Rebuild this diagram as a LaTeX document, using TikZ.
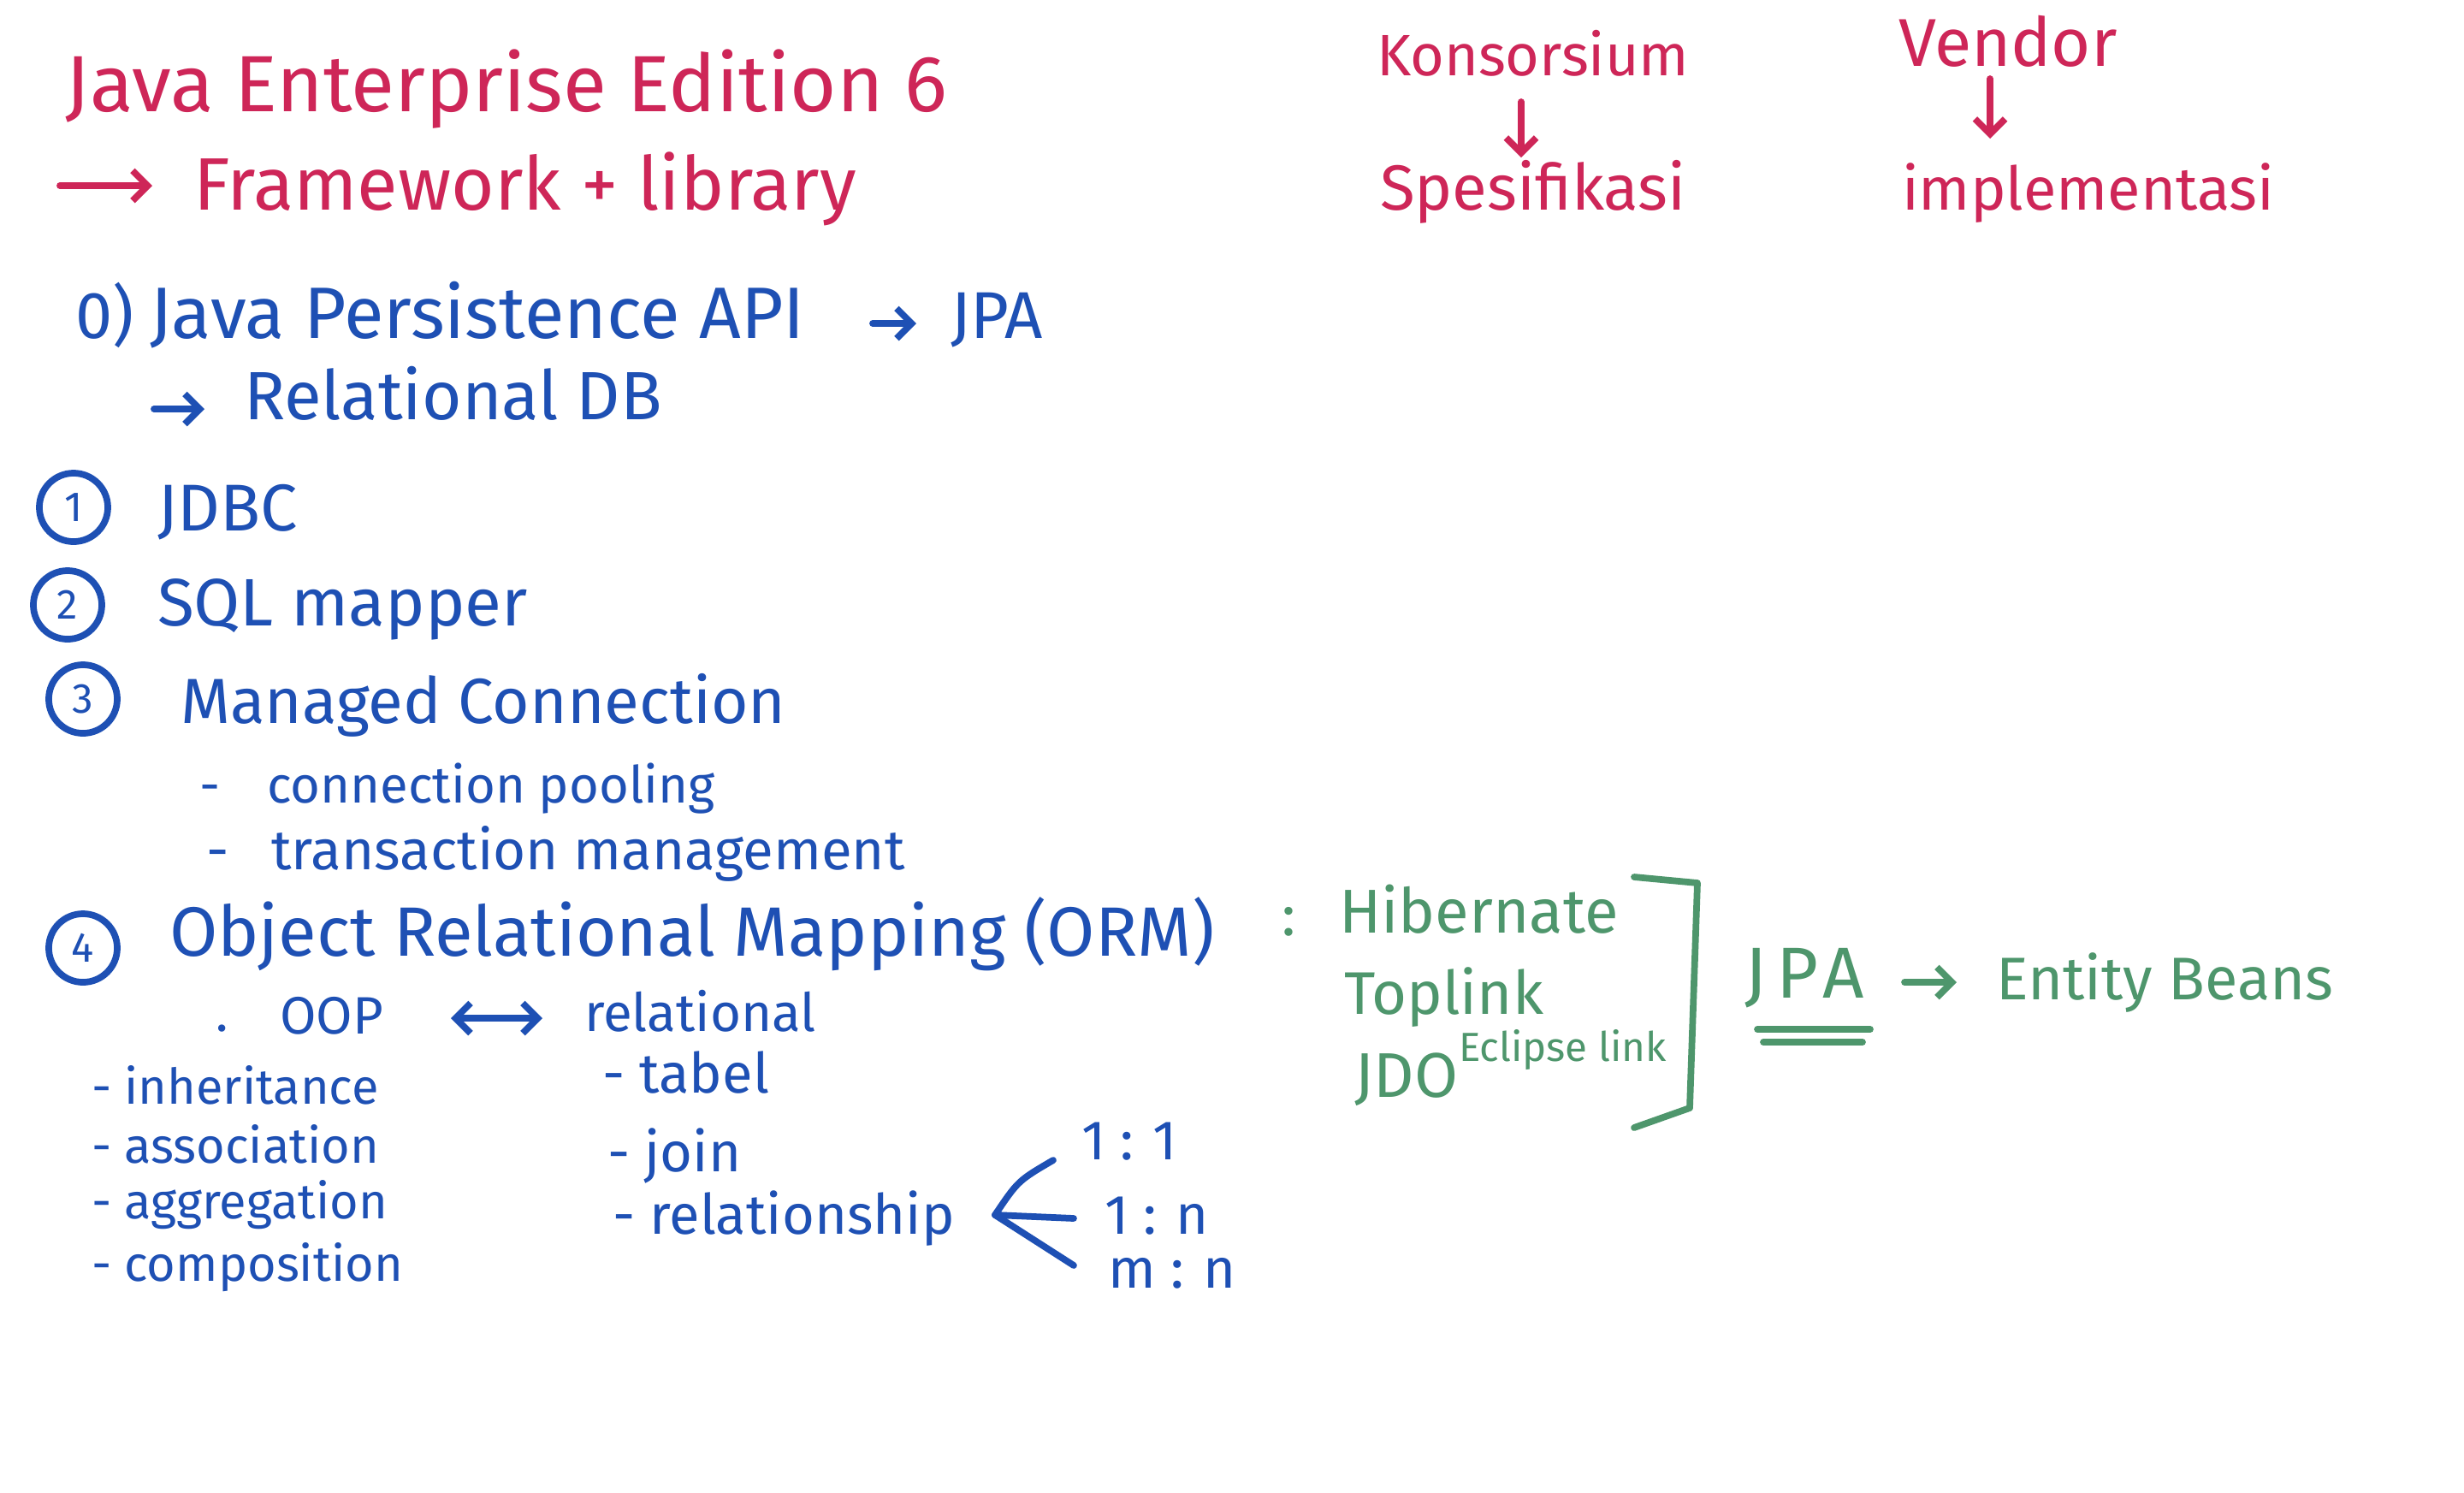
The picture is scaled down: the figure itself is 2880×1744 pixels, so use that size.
\documentclass[tikz,border=0pt]{standalone}
\usepackage{fontspec}
\setmainfont{Fira Sans}
\usetikzlibrary{arrows.meta}
\definecolor{inkred}{RGB}{206,38,88}
\definecolor{inkblue}{RGB}{30,80,180}
\definecolor{inkgreen}{RGB}{78,150,108}
\newcommand{\fsz}[1]{\fontsize{#1}{#1}\selectfont}
\begin{document}
\begin{tikzpicture}[x=0.01cm,y=-0.01cm,
  txt/.style={anchor=base west, inner sep=0pt, outer sep=0pt},
  redtxt/.style={txt, text=inkred},
  bluetxt/.style={txt, text=inkblue},
  greentxt/.style={txt, text=inkgreen},
  numcircle/.style={circle, draw=inkblue, line width=2.2pt, text=inkblue,
    minimum size=0.8cm, inner sep=0pt, font=\fsz{14}},
  pen/.style={line width=2.2pt, line cap=round, line join=round},
  arr/.style={pen, -{Straight Barb[length=5pt,width=10pt]}},
  dblarr/.style={pen, {Straight Barb[length=5pt,width=10pt]}-{Straight Barb[length=5pt,width=10pt]}},
]
\useasboundingbox (0,0) rectangle (2880,1744);
\fill[white] (0,0) rectangle (2880,1744);

% ---- heading (red)
\node[redtxt, font=\fsz{26.5}] (jee) at (77,130) {Java Enterprise Edition 6};
\coordinate (fwa) at (70,217);
\coordinate (fwb) at (178,217);
\draw[arr, inkred] (fwa) -- (fwb);
\node[redtxt, font=\fsz{24.7}] (fw) at (226,245) {Framework + library};

\node[redtxt, font=\fsz{19.4}] (kons) at (1609,88) {Konsorsium};
\node[redtxt, font=\fsz{21.2}] (spes) at (1613,245) {Spesifikasi};
\draw[arr, inkred] (1778,119) coordinate (ka) -- (1778,184) coordinate (kb);

\node[redtxt, font=\fsz{22.5}] (vend) at (2219,77) {Vendor};
\node[redtxt, font=\fsz{20}] (impl) at (2223,245) {implementasi};
\draw[arr, inkred] (2326,92) coordinate (va) -- (2326,162) coordinate (vb);

% ---- persistence (blue)
\node[bluetxt, font=\fsz{22}] (zero) at (88,395) {0)};
\node[bluetxt, font=\fsz{24.2}] (jpaapi) at (175,395) {Java Persistence API};
\node[bluetxt, font=\fsz{22}] (jpa) at (1111,395) {JPA};
\draw[arr, inkblue] (1020,378) coordinate (ja) -- (1071,378) coordinate (jb);
\coordinate (rda) at (180,478);
\coordinate (rdb) at (239,478);
\draw[arr, inkblue] (rda) -- (rdb);
\node[bluetxt, font=\fsz{22.7}] (reldb) at (285,490) {Relational DB};

\node[numcircle] (n1) at (86,593) {1};
\node[bluetxt, font=\fsz{22}] (jdbc) at (184,620) {JDBC};
\node[numcircle] (n2) at (79,707) {2};
\node[bluetxt, font=\fsz{22.3}] (sqlm) at (184,731) {SQL mapper};
\node[numcircle] (n3) at (97,817) {3};
\node[bluetxt, font=\fsz{21.2}] (mc) at (211,845) {Managed Connection};
\node[bluetxt, font=\fsz{17}] (pool) at (233,938) {-\hspace{0.55cm}connection pooling};
\node[bluetxt, font=\fsz{18.6}] (trx) at (241,1016) {-\hspace{0.5cm}transaction management};

\node[numcircle] (n4) at (97,1108) {4};
\node[bluetxt, font=\fsz{23.2}] (orm) at (198,1117) {Object Relational Mapping (ORM)};
\node[greentxt, font=\fsz{19}] (colon) at (1498,1093) {:};

\node[bluetxt, font=\fsz{17}] (dot) at (252,1205) {.};
\node[bluetxt, font=\fsz{17.5}] (oop) at (327,1208) {OOP};
\node[bluetxt, font=\fsz{17.6}] (rel) at (683,1205) {relational};
\draw[dblarr, inkblue] (527,1190) coordinate (oa) -- (634,1190) coordinate (ob);

\node[bluetxt, font=\fsz{16.4}] (inh) at (107,1290) {- inheritance};
\node[bluetxt, font=\fsz{16.4}] (asc) at (107,1359) {- association};
\node[bluetxt, font=\fsz{16.4}] (agg) at (107,1424) {- aggregation};
\node[bluetxt, font=\fsz{16.4}] (cmp) at (107,1497) {- composition};

\node[bluetxt, font=\fsz{18.5}] (tab) at (704,1277) {- tabel};
\node[bluetxt, font=\fsz{18.5}] (join) at (710,1369) {- join};
\node[bluetxt, font=\fsz{18.5}] (rship) at (716,1442) {- relationship};

\node[bluetxt, font=\fsz{18.5}] (r11) at (1264,1355) {1 : 1};
\node[bluetxt, font=\fsz{18.5}] (r1n) at (1291,1442) {1 : n};
\node[bluetxt, font=\fsz{18.5}] (rmn) at (1295,1505) {m : n};
\coordinate (fork) at (1163,1420);
\coordinate (f11) at (1231,1356);
\coordinate (f1n) at (1255,1424);
\coordinate (fmn) at (1255,1479);
\draw[pen, inkblue] (f11) .. controls (1190,1380) .. (fork) -- (f1n);
\draw[pen, inkblue] (fork) -- (fmn);

% ---- ORM implementations (green)
\node[greentxt, font=\fsz{20.6}] (hib) at (1565,1090) {Hibernate};
\node[greentxt, font=\fsz{20}] (top) at (1571,1185) {Toplink};
\node[greentxt, font=\fsz{13.5}] (ecl) at (1705,1240) {Eclipse link};
\node[greentxt, font=\fsz{21}] (jdo) at (1583,1282) {JDO};
\coordinate (bra) at (1910,1025);
\coordinate (brb) at (1984,1032);
\coordinate (brc) at (1975,1295);
\coordinate (brd) at (1910,1318);
\draw[pen, inkgreen] (bra) -- (brb) -- (brc) -- (brd);

\node[greentxt, font=\fsz{24}] (gjpa) at (2039,1166) {J\hspace{0.12cm}P\hspace{0.05cm}A};
\node[greentxt, font=\fsz{20}] (ent) at (2333,1168) {Entity Beans};
\draw[arr, inkgreen] (2226,1148) coordinate (ea) -- (2287,1148) coordinate (eb);
\draw[pen, inkgreen] (2054,1203) -- (2186,1203);
\draw[pen, inkgreen] (2061,1218) -- (2177,1218);
\end{tikzpicture}
\end{document}
